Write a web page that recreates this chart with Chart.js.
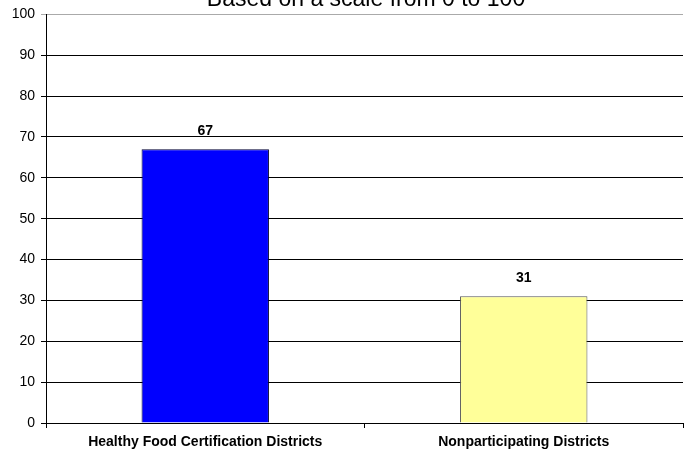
<!DOCTYPE html>
<html><head><meta charset="utf-8">
<script src="https://cdn.jsdelivr.net/npm/chart.js@4/dist/chart.umd.min.js"></script>
<style>html,body{margin:0;padding:0;background:#fff}#wrap{width:684px;height:451px}</style>
</head><body><div id="wrap"><canvas id="c" width="684" height="451"></canvas></div>
<script>
const categories = ["Healthy Food Certification Districts", "Nonparticipating Districts"];
const values = [67, 31];
const barColors = ["#0000FF", "#FFFF99"];
const titleText = "Based on a scale from 0 to 100";

const FONT = '"Liberation Sans", Arial, sans-serif';

const overlay = {
  id: 'overlay',
  afterDatasetsDraw(chart) {
    const ctx = chart.ctx;
    const meta = chart.getDatasetMeta(0);
    ctx.save();
    ctx.fillStyle = '#000';
    ctx.textAlign = 'center';
    ctx.textBaseline = 'alphabetic';
    ctx.font = 'bold 14px ' + FONT;
    meta.data.forEach((el, i) => {
      ctx.fillText(String(values[i]), el.x, el.y - 14);
    });
    ctx.font = '23px ' + FONT;
    ctx.fillText(titleText, 366, 6);
    ctx.restore();
  }
};

new Chart(document.getElementById('c'), {
  type: 'bar',
  data: {
    labels: categories,
    datasets: [{
      data: values,
      backgroundColor: barColors,
      borderColor: ['#000033', '#555555'],
      borderWidth: 1,
      barPercentage: 0.4,
      categoryPercentage: 1.0
    }]
  },
  options: {
    responsive: false,
    animation: false,
    devicePixelRatio: 1,
    layout: { padding: { top: 14, right: 1, left: 0, bottom: 0 } },
    plugins: { legend: { display: false }, tooltip: { enabled: false }, title: { display: false } },
    scales: {
      x: {
        afterFit: s => { s.height = 28; },
        grid: { display: true, drawOnChartArea: false, drawTicks: true, tickLength: 5, color: '#000', offset: true },
        border: { display: true, color: '#000', width: 1 },
        ticks: { color: '#000', font: { family: FONT, size: 14, weight: 'bold' }, padding: 6, maxRotation: 0 }
      },
      y: {
        min: 0, max: 100,
        afterFit: s => { s.width = 46; },
        grid: { color: c => (c.tick && c.tick.value === 100 ? '#aaa' : '#000'), lineWidth: 1, drawTicks: true, tickLength: 5 },
        border: { display: true, color: '#000', width: 1 },
        ticks: { stepSize: 10, color: '#000', font: { family: FONT, size: 14 }, padding: 6 }
      }
    }
  },
  plugins: [overlay]
});
</script></body></html>
